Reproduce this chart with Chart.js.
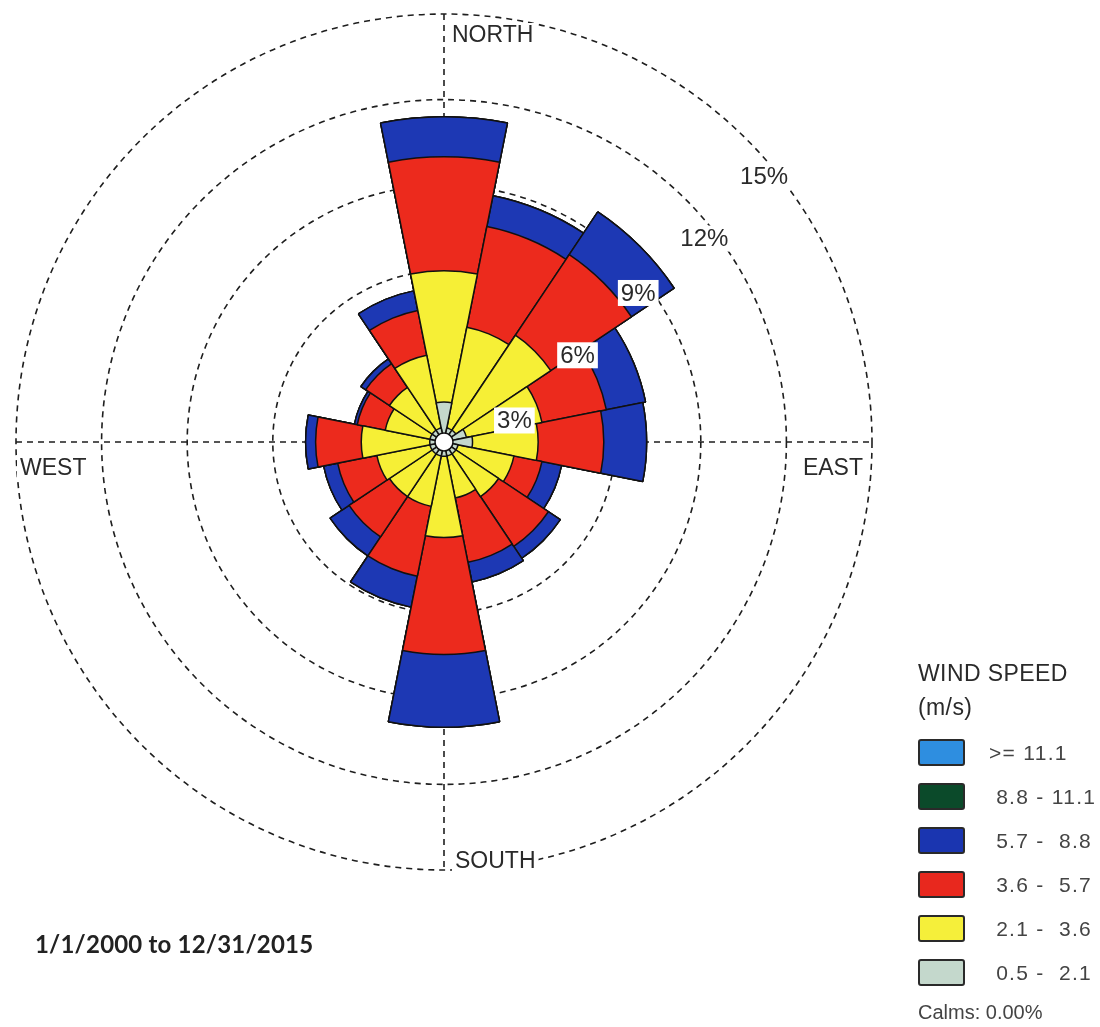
<!DOCTYPE html>
<html>
<head>
<meta charset="utf-8">
<title>Wind Rose</title>
<script src="https://cdn.jsdelivr.net/npm/chart.js@4.4.1/dist/chart.umd.min.js"></script>
<style>
    body { margin: 0; background: #fff; font-family: "Liberation Sans", Arial, sans-serif; }
    #wrap { position: relative; width: 1100px; height: 1027px; overflow: hidden; }
    #rosa { position: absolute; left: 0; top: 0; }
    .titulo-leg { position: absolute; left: 918px; font-size: 23px; line-height: 23px; letter-spacing: 0.4px; color: #2a2a2a; }
    .item-leg { position: absolute; left: 918px; height: 27px; }
    .caixa { position: absolute; left: 0; top: 0; width: 43px; height: 23px; border: 2px solid #2a2a2a; border-radius: 3px; }
    .txt-leg { position: absolute; left: 71px; top: 3px; font-size: 21px; line-height: 21px; letter-spacing: 1.3px; color: #444; white-space: pre; }
    .calmas { position: absolute; left: 918px; top: 1002px; font-size: 20px; line-height: 20px; color: #444; }
    .periodo { position: absolute; left: 35px; top: 930px; font-family: Lato, "Open Sans", sans-serif; font-weight: bold; font-size: 24px; line-height: 28px; letter-spacing: 0.2px; color: #222; }
</style>
</head>
<body>
<div id="wrap">
    <canvas id="rosa" width="1100" height="1027"></canvas>
    <div class="titulo-leg" style="top:662px">WIND SPEED</div>
    <div class="titulo-leg" style="top:696px">(m/s)</div>
    <div id="legenda"></div>
    <div class="calmas">Calms: 0.00%</div>
    <div class="periodo">1/1/2000 to 12/31/2015</div>
</div>
<script>
// ==========================================
// ROSA DOS VENTOS - frequencia (%) por direcao e classe de velocidade
// ==========================================

const direcoes = ['N', 'NNE', 'NE', 'ENE', 'E', 'ESE', 'SE', 'SSE', 'S', 'SSW', 'SW', 'WSW', 'W', 'WNW', 'NW', 'NNW'];

// classes de velocidade (m/s), da mais fraca para a mais forte
const classes = [' 0.5 -  2.1', ' 2.1 -  3.6', ' 3.6 -  5.7', ' 5.7 -  8.8', ' 8.8 - 11.1', '>= 11.1'];

const vel05a21  = [1.4, 0.5, 0.5, 0.8, 1.0, 0.5, 0.5, 0.5, 0.5, 0.5, 0.5, 0.5, 0.5, 0.5, 0.5, 0.5];
const vel21a36  = [4.6, 3.6, 4.0, 2.7, 2.3, 2.0, 1.8, 1.5, 2.85, 1.8, 1.8, 1.9, 2.4, 1.6, 1.8, 2.6];
const vel36a57  = [4.0, 3.6, 3.4, 2.3, 2.3, 1.0, 2.1, 2.3, 4.1, 2.5, 1.7, 1.4, 1.6, 1.0, 1.0, 1.6];
const vel57a88  = [1.4, 1.1, 1.8, 1.4, 1.5, 0.7, 0.5, 0.7, 2.55, 1.1, 0.8, 0.5, 0.35, 0.1, 0.2, 0.7];
const vel88a111 = [0, 0, 0, 0, 0, 0, 0, 0, 0, 0, 0, 0, 0, 0, 0, 0];
const vel111    = [0, 0, 0, 0, 0, 0, 0, 0, 0, 0, 0, 0, 0, 0, 0, 0];

const aneis = [3, 6, 9, 12, 15];
const rotulosAneis = ['3%', '6%', '9%', '12%', '15%'];

const coresClasses = ['#c4d8cc', '#f6ef36', '#ec2a1d', '#1d38b4', '#0e4a30', '#2e8ee0'];
const coresLegenda = ['#c4d8cc', '#f5ef3a', '#e8281e', '#1a35b0', '#0b4a2a', '#2e8ee0'];

let series = [vel05a21, vel21a36, vel36a57, vel57a88, vel88a111, vel111];

// valores acumulados: cada classe desenhada por baixo da anterior
let acumulado = [];
series.forEach((s, i) => {
    acumulado.push(s.map((v, j) => v + (i > 0 ? acumulado[i - 1][j] : 0)));
});

// legenda em HTML, da classe mais forte para a mais fraca
let htmlLeg = '';
for (let i = classes.length - 1, k = 0; i >= 0; i--, k++) {
    htmlLeg += `<div class="item-leg" style="top:${739 + k * 44}px">
        <div class="caixa" style="background:${coresLegenda[i]}"></div>
        <div class="txt-leg">${classes[i]}</div></div>`;
}
document.getElementById('legenda').innerHTML = htmlLeg;

function textoComFundo(ctx, txt, x, y) {
    let w = ctx.measureText(txt).width;
    let x0 = ctx.textAlign === 'right' ? x - w : x;
    ctx.fillStyle = '#fff';
    ctx.fillRect(x0 - 3, y - 12, w + 6, 24);
    ctx.fillStyle = '#2a2a2a';
    ctx.fillText(txt, x, y + 1);
}

const pluginRosa = {
    id: 'rosa',
    beforeDatasetsDraw(chart) {
        let r = chart.scales.r, ctx = chart.ctx;
        let cx = r.xCenter, cy = r.yCenter, R = r.drawingArea;
        ctx.save();
        ctx.strokeStyle = '#1e1e1e';
        ctx.lineWidth = 1.6;
        ctx.setLineDash([6, 5]);
        ctx.beginPath();
        ctx.moveTo(cx - R, cy); ctx.lineTo(cx + R, cy);
        ctx.moveTo(cx, cy - R); ctx.lineTo(cx, cy + R);
        ctx.stroke();
        ctx.restore();
    },
    afterDatasetsDraw(chart) {
        let r = chart.scales.r, ctx = chart.ctx;
        let cx = r.xCenter, cy = r.yCenter, R = r.drawingArea;
        ctx.save();

        // circulo de calmaria
        ctx.beginPath();
        ctx.arc(cx, cy, 9, 0, Math.PI * 2);
        ctx.fillStyle = '#fff';
        ctx.fill();
        ctx.lineWidth = 1.5;
        ctx.strokeStyle = '#111';
        ctx.stroke();

        // rotulos dos aneis
        let angulos = [17, 33, 37.5, 38, 39.7];
        ctx.font = '24px "Liberation Sans", Arial, sans-serif';
        ctx.textAlign = 'center';
        ctx.textBaseline = 'middle';
        aneis.forEach((v, i) => {
            let d = r.getDistanceFromCenterForValue(v) - 12;
            let a = angulos[i] * Math.PI / 180;
            let x = cx + d * Math.cos(a), y = cy - d * Math.sin(a);
            let w = ctx.measureText(rotulosAneis[i]).width;
            ctx.fillStyle = '#fff';
            ctx.fillRect(x - w / 2 - 3, y - 13, w + 6, 26);
            ctx.fillStyle = '#2a2a2a';
            ctx.fillText(rotulosAneis[i], x, y + 1);
        });

        // pontos cardeais
        ctx.font = '23px "Liberation Sans", Arial, sans-serif';
        ctx.textAlign = 'left';
        textoComFundo(ctx, 'NORTH', cx + 8, cy - R + 21);
        textoComFundo(ctx, 'SOUTH', cx + 11, cy + R - 9);
        textoComFundo(ctx, 'WEST', cx - R + 4, cy + 26);
        ctx.textAlign = 'right';
        textoComFundo(ctx, 'EAST', cx + R - 9, cy + 26);
        ctx.restore();
    }
};

new Chart(document.getElementById('rosa'), {
    type: 'polarArea',
    data: {
        labels: direcoes,
        datasets: classes.map((c, i) => ({
            label: c.trim(),
            data: acumulado[i],
            backgroundColor: coresClasses[i],
            borderColor: '#111',
            borderWidth: 1.5
        }))
    },
    options: {
        responsive: false,
        animation: false,
        layout: { padding: { left: 16, right: 228, top: 14, bottom: 157 } },
        plugins: { legend: { display: false }, tooltip: { enabled: false } },
        scales: {
            r: {
                min: 0,
                max: 15,
                startAngle: -11.25,
                ticks: { stepSize: 3, display: false },
                grid: { color: '#1e1e1e', lineWidth: 1.6 },
                border: { dash: [6, 5] },
                angleLines: { display: false },
                pointLabels: { display: false }
            }
        }
    },
    plugins: [pluginRosa]
});
</script>
</body>
</html>
